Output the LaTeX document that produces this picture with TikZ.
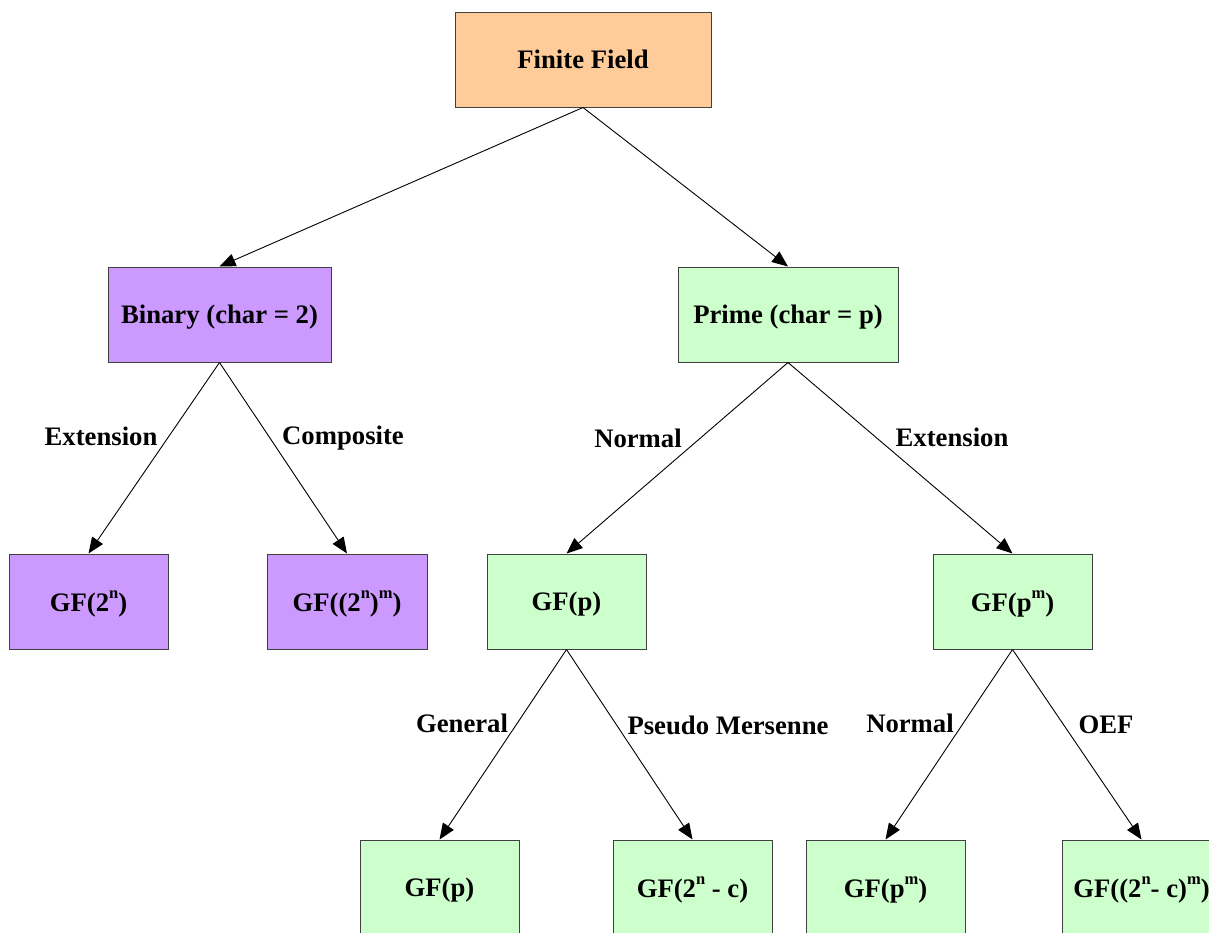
\documentclass[tikz,border=0pt]{standalone}
\usepackage{fontspec}
\setmainfont{Liberation Serif}
\usetikzlibrary{arrows.meta}
\definecolor{fieldorange}{HTML}{FFCC99}
\definecolor{binpurple}{HTML}{CC99FF}
\definecolor{primegreen}{HTML}{CCFFCC}
\definecolor{edgegray}{HTML}{404040}
\newcommand{\upidx}[1]{\raisebox{1.05ex}{\fontsize{16.5}{16.5}\selectfont #1}}
\tikzset{
  fbox/.style={draw=edgegray, line width=1pt, minimum height=95pt, inner sep=0pt,
    text depth=0pt, font=\fontsize{26.7}{30}\selectfont\bfseries},
  rootbox/.style={fbox, fill=fieldorange, minimum width=256pt},
  binbox/.style={fbox, fill=binpurple},
  primebox/.style={fbox, fill=primegreen},
  link/.style={draw=black, line width=0.9pt, -{Triangle[length=16pt,width=13pt]}},
  elabel/.style={font=\fontsize{26.7}{30}\selectfont\bfseries, inner sep=0pt}
}
\begin{document}
\begin{tikzpicture}[x=1pt,y=-1pt]
\useasboundingbox (0,0) rectangle (1209,932);
\clip (0,0) rectangle (1209,932);
% top level
\node[rootbox] (ff) at (583,59.5) {Finite Field};
% characteristic
\node[binbox, minimum width=223pt] (bin) at (219.5,314.5) {Binary (char = 2)};
\node[primebox, minimum width=220pt] (pri) at (788,314.5) {Prime (char = p)};
% second level
\node[binbox, minimum width=159pt] (gf2n) at (88.5,601.5) {GF(2\upidx{n})};
\node[binbox, minimum width=160pt] (gf2nm) at (347,601.5) {GF((2\upidx{n})\upidx{m})};
\node[primebox, minimum width=159pt] (gfp) at (566.5,601.5) {GF(p)};
\node[primebox, minimum width=159pt] (gfpm) at (1012.5,601.5) {GF(p\upidx{m})};
% third level
\node[primebox, minimum width=159pt] (gfpg) at (439.5,887.5) {GF(p)};
\node[primebox, minimum width=159pt] (gfpc) at (692.5,887.5) {GF(2\upidx{n} - c)};
\node[primebox, minimum width=159pt] (gfpmn) at (885.5,887.5) {GF(p\upidx{m})};
\node[primebox, minimum width=159pt] (gfoef) at (1141.5,887.5) {GF((2\upidx{n}- c)\upidx{m})};
% connectors
\draw[link] (ff.south) -- (bin.north);
\draw[link] (ff.south) -- (pri.north);
\draw[link] (bin.south) -- (gf2n.north);
\draw[link] (bin.south) -- (gf2nm.north);
\draw[link] (pri.south) -- (gfp.north);
\draw[link] (pri.south) -- (gfpm.north);
\draw[link] (gfp.south) -- (gfpg.north);
\draw[link] (gfp.south) -- (gfpc.north);
\draw[link] (gfpm.south) -- (gfpmn.north);
\draw[link] (gfpm.south) -- (gfoef.north);
% connector labels
\node[elabel] (l1) at (101,436) {Extension};
\node[elabel] (l2) at (343,438) {Composite};
\node[elabel] (l3) at (638,438) {Normal};
\node[elabel] (l4) at (952,437) {Extension};
\node[elabel] (l5) at (462,723) {General};
\node[elabel] (l6) at (728,725) {Pseudo Mersenne};
\node[elabel] (l7) at (910,723) {Normal};
\node[elabel] (l8) at (1106,725) {OEF};
\end{tikzpicture}
\end{document}
